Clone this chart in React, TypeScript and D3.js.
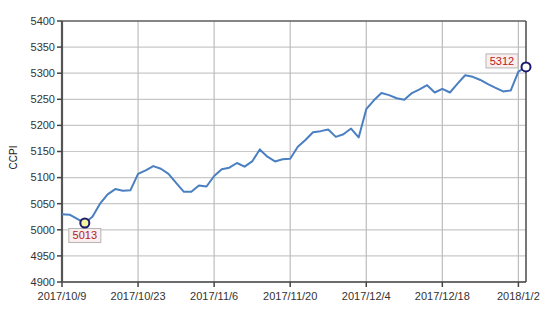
import React from "react";
import * as d3 from "d3";

const dates = [
  "2017/10/9","2017/10/10","2017/10/11","2017/10/12","2017/10/13",
  "2017/10/16","2017/10/17","2017/10/18","2017/10/19","2017/10/20",
  "2017/10/23","2017/10/24","2017/10/25","2017/10/26","2017/10/27",
  "2017/10/30","2017/10/31","2017/11/1","2017/11/2","2017/11/3",
  "2017/11/6","2017/11/7","2017/11/8","2017/11/9","2017/11/10",
  "2017/11/13","2017/11/14","2017/11/15","2017/11/16","2017/11/17",
  "2017/11/20","2017/11/21","2017/11/22","2017/11/23","2017/11/24",
  "2017/11/27","2017/11/28","2017/11/29","2017/11/30","2017/12/1",
  "2017/12/4","2017/12/5","2017/12/6","2017/12/7","2017/12/8",
  "2017/12/11","2017/12/12","2017/12/13","2017/12/14","2017/12/15",
  "2017/12/18","2017/12/19","2017/12/20","2017/12/21","2017/12/22",
  "2017/12/25","2017/12/26","2017/12/27","2017/12/28","2017/12/29",
  "2018/1/2","2018/1/3",
];

const values = [
  5030, 5029, 5021, 5013, 5025,
  5050, 5068, 5078, 5075, 5076,
  5107, 5114, 5122, 5117, 5107,
  5090, 5073, 5073, 5085, 5083,
  5103, 5116, 5119, 5128, 5121,
  5131, 5154, 5140, 5131, 5135,
  5136, 5159, 5172, 5187, 5189,
  5192, 5178, 5183, 5194, 5177,
  5231, 5248, 5262, 5258, 5252,
  5249, 5262, 5269, 5277, 5263,
  5270, 5263, 5280, 5296, 5293,
  5287, 5279, 5272, 5265, 5267,
  5303, 5312,
];

const xTickLabels = ["2017/10/9", "2017/10/23", "2017/11/6", "2017/11/20", "2017/12/4", "2017/12/18", "2018/1/2"];
const yTicks = [4900, 4950, 5000, 5050, 5100, 5150, 5200, 5250, 5300, 5350, 5400];
const markedLabels = ["2017/10/12", "2018/1/3"];

export default function App() {
  const W = 555, H = 312;
  const left = 62, right = 526, top = 21, bottom = 282;
  const x = d3.scaleLinear().domain([0, dates.length - 1]).range([left, right]);
  const y = d3.scaleLinear().domain([4900, 5400]).range([bottom, top]);
  const line = d3.line<number>().x((_, i) => x(i)).y((d) => y(d));
  const font = "Arial, 'Liberation Sans', sans-serif";
  const xTickIdx = xTickLabels.map((l) => dates.indexOf(l));
  const marks = markedLabels.map((l) => dates.indexOf(l));

  return (
    <svg width={W} height={H} style={{ position: "absolute", left: 0, top: 0, background: "#fff" }} fontFamily={font}>
      {yTicks.map((t) => (
        <line key={"h" + t} x1={left} x2={right} y1={y(t)} y2={y(t)} stroke="#c8c8c8" strokeWidth={1.2} />
      ))}
      {xTickIdx.map((i) => (
        <line key={"v" + i} x1={x(i)} x2={x(i)} y1={top} y2={bottom} stroke="#bdbdbd" strokeWidth={1.2} />
      ))}
      <line x1={left} x2={right} y1={top} y2={top} stroke="#666" strokeWidth={1.6} />
      <line x1={right} x2={right} y1={top} y2={bottom} stroke="#555" strokeWidth={1.6} />
      <line x1={left} x2={right} y1={bottom} y2={bottom} stroke="#444" strokeWidth={1.6} />
      <line x1={left} x2={left} y1={top} y2={bottom} stroke="#555" strokeWidth={2.2} />
      {yTicks.map((t) => (
        <g key={"yt" + t}>
          <line x1={left - 5} x2={left} y1={y(t)} y2={y(t)} stroke="#444" strokeWidth={1.5} />
          <text x={left - 7} y={y(t)} dy="0.35em" textAnchor="end" fontSize={11} fill="#333">{t}</text>
        </g>
      ))}
      {xTickIdx.map((i, k) => (
        <g key={"xt" + i}>
          <line x1={x(i)} x2={x(i)} y1={bottom} y2={bottom + 5} stroke="#444" strokeWidth={1.5} />
          <text x={x(i)} y={bottom + 18} textAnchor="middle" fontSize={11} fill="#333">{xTickLabels[k]}</text>
        </g>
      ))}
      <text transform={`translate(17,${(top + bottom) / 2 + 6}) rotate(-90)`} textAnchor="middle" fontSize={10} fill="#222">CCPI</text>
      <path d={line(values) || ""} fill="none" stroke="#4a7fc1" strokeWidth={2} strokeLinejoin="round" />
      {marks.map((i, k) => {
        const cx = x(i), cy = y(values[i]);
        const isFirst = k === 0;
        const bw = 32, bh = 14;
        const bx = isFirst ? cx - 16 : cx - 40;
        const by = isFirst ? cy + 5.5 : cy - 13;
        return (
          <g key={"m" + i}>
            <rect x={bx} y={by} width={bw} height={bh} fill="#fbeeee" stroke="#b5b5b5" strokeWidth={1} />
            <text x={bx + bw / 2} y={by + bh / 2} dy="0.36em" textAnchor="middle" fontSize={11} fill="#b22222">{values[i]}</text>
            <circle cx={cx} cy={cy} r={4.5} fill={isFirst ? "#f4f3a0" : "#fff"} stroke="#1b1b6b" strokeWidth={2} />
          </g>
        );
      })}
    </svg>
  );
}
